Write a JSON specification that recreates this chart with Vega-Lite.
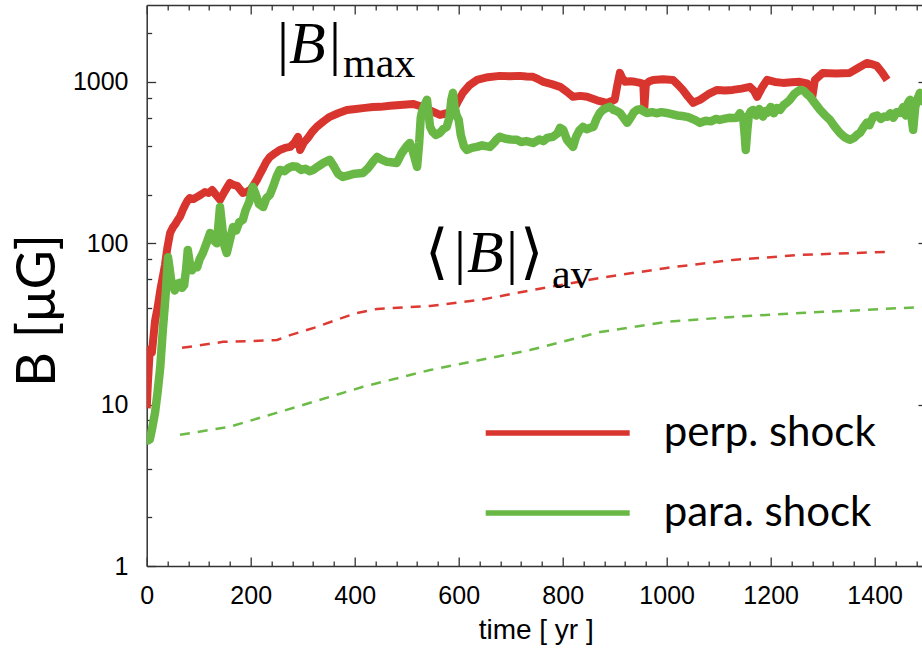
{
  "$schema": "https://vega.github.io/schema/vega-lite/v6.json",
  "width": 775.3,
  "height": 561,
  "autosize": {"type": "none"},
  "padding": {"left": 146.7, "top": 5, "right": 0, "bottom": 85},
  "background": "white",
  "config": {"view": {"stroke": null}},
  "datasets": {
    "maxPerp": [
      {"t":0,"B":9.5,"s":"perp. shock"},{"t":2.5,"B":14,"s":"perp. shock"},{"t":6,"B":22,"s":"perp. shock"},{"t":10,"B":21,"s":"perp. shock"},{"t":16,"B":33,"s":"perp. shock"},{"t":21,"B":40,"s":"perp. shock"},{"t":26,"B":51,"s":"perp. shock"},{"t":31,"B":62,"s":"perp. shock"},{"t":35,"B":73,"s":"perp. shock"},{"t":40,"B":95,"s":"perp. shock"},{"t":45,"B":116,"s":"perp. shock"},{"t":50,"B":125,"s":"perp. shock"},{"t":54,"B":130,"s":"perp. shock"},{"t":60,"B":140,"s":"perp. shock"},{"t":64,"B":146,"s":"perp. shock"},{"t":69,"B":160,"s":"perp. shock"},{"t":74,"B":173,"s":"perp. shock"},{"t":79,"B":185,"s":"perp. shock"},{"t":83,"B":191,"s":"perp. shock"},{"t":90,"B":188,"s":"perp. shock"},{"t":97,"B":194,"s":"perp. shock"},{"t":104,"B":200,"s":"perp. shock"},{"t":112,"B":208,"s":"perp. shock"},{"t":119,"B":205,"s":"perp. shock"},{"t":126,"B":214,"s":"perp. shock"},{"t":133,"B":200,"s":"perp. shock"},{"t":141,"B":186,"s":"perp. shock"},{"t":150,"B":210,"s":"perp. shock"},{"t":160,"B":237,"s":"perp. shock"},{"t":167,"B":230,"s":"perp. shock"},{"t":174,"B":227,"s":"perp. shock"},{"t":180,"B":215,"s":"perp. shock"},{"t":185,"B":205,"s":"perp. shock"},{"t":192,"B":208,"s":"perp. shock"},{"t":199,"B":214,"s":"perp. shock"},{"t":206,"B":230,"s":"perp. shock"},{"t":212,"B":247,"s":"perp. shock"},{"t":218,"B":270,"s":"perp. shock"},{"t":224,"B":293,"s":"perp. shock"},{"t":230,"B":320,"s":"perp. shock"},{"t":237,"B":343,"s":"perp. shock"},{"t":246,"B":360,"s":"perp. shock"},{"t":256,"B":379,"s":"perp. shock"},{"t":266,"B":390,"s":"perp. shock"},{"t":276,"B":396,"s":"perp. shock"},{"t":284,"B":420,"s":"perp. shock"},{"t":291,"B":457,"s":"perp. shock"},{"t":295,"B":379,"s":"perp. shock"},{"t":302,"B":420,"s":"perp. shock"},{"t":310,"B":450,"s":"perp. shock"},{"t":318,"B":490,"s":"perp. shock"},{"t":327,"B":527,"s":"perp. shock"},{"t":340,"B":570,"s":"perp. shock"},{"t":352,"B":608,"s":"perp. shock"},{"t":368,"B":640,"s":"perp. shock"},{"t":385,"B":671,"s":"perp. shock"},{"t":402,"B":680,"s":"perp. shock"},{"t":420,"B":691,"s":"perp. shock"},{"t":435,"B":700,"s":"perp. shock"},{"t":449,"B":701,"s":"perp. shock"},{"t":468,"B":712,"s":"perp. shock"},{"t":487,"B":721,"s":"perp. shock"},{"t":500,"B":726,"s":"perp. shock"},{"t":512,"B":731,"s":"perp. shock"},{"t":522,"B":715,"s":"perp. shock"},{"t":531,"B":701,"s":"perp. shock"},{"t":548,"B":660,"s":"perp. shock"},{"t":564,"B":625,"s":"perp. shock"},{"t":577,"B":640,"s":"perp. shock"},{"t":589,"B":653,"s":"perp. shock"},{"t":598,"B":750,"s":"perp. shock"},{"t":608,"B":856,"s":"perp. shock"},{"t":620,"B":950,"s":"perp. shock"},{"t":635,"B":1030,"s":"perp. shock"},{"t":656,"B":1070,"s":"perp. shock"},{"t":679,"B":1091,"s":"perp. shock"},{"t":698,"B":1085,"s":"perp. shock"},{"t":718,"B":1091,"s":"perp. shock"},{"t":730,"B":1080,"s":"perp. shock"},{"t":743,"B":1076,"s":"perp. shock"},{"t":753,"B":1040,"s":"perp. shock"},{"t":763,"B":1002,"s":"perp. shock"},{"t":779,"B":970,"s":"perp. shock"},{"t":795,"B":933,"s":"perp. shock"},{"t":808,"B":870,"s":"perp. shock"},{"t":820,"B":809,"s":"perp. shock"},{"t":834,"B":820,"s":"perp. shock"},{"t":847,"B":809,"s":"perp. shock"},{"t":866,"B":770,"s":"perp. shock"},{"t":885,"B":742,"s":"perp. shock"},{"t":893,"B":760,"s":"perp. shock"},{"t":900,"B":775,"s":"perp. shock"},{"t":905,"B":950,"s":"perp. shock"},{"t":910,"B":1138,"s":"perp. shock"},{"t":915,"B":1050,"s":"perp. shock"},{"t":920,"B":1002,"s":"perp. shock"},{"t":930,"B":1010,"s":"perp. shock"},{"t":939,"B":1002,"s":"perp. shock"},{"t":947,"B":990,"s":"perp. shock"},{"t":955,"B":973,"s":"perp. shock"},{"t":957,"B":691,"s":"perp. shock"},{"t":960,"B":973,"s":"perp. shock"},{"t":967,"B":1010,"s":"perp. shock"},{"t":974,"B":1030,"s":"perp. shock"},{"t":993,"B":1040,"s":"perp. shock"},{"t":1012,"B":1030,"s":"perp. shock"},{"t":1022,"B":960,"s":"perp. shock"},{"t":1031,"B":893,"s":"perp. shock"},{"t":1041,"B":810,"s":"perp. shock"},{"t":1051,"B":742,"s":"perp. shock"},{"t":1058,"B":760,"s":"perp. shock"},{"t":1064,"B":775,"s":"perp. shock"},{"t":1080,"B":840,"s":"perp. shock"},{"t":1097,"B":893,"s":"perp. shock"},{"t":1112,"B":885,"s":"perp. shock"},{"t":1127,"B":893,"s":"perp. shock"},{"t":1144,"B":910,"s":"perp. shock"},{"t":1160,"B":933,"s":"perp. shock"},{"t":1168,"B":880,"s":"perp. shock"},{"t":1174,"B":809,"s":"perp. shock"},{"t":1183,"B":920,"s":"perp. shock"},{"t":1193,"B":1030,"s":"perp. shock"},{"t":1208,"B":1000,"s":"perp. shock"},{"t":1224,"B":987,"s":"perp. shock"},{"t":1240,"B":995,"s":"perp. shock"},{"t":1256,"B":1002,"s":"perp. shock"},{"t":1270,"B":980,"s":"perp. shock"},{"t":1280,"B":809,"s":"perp. shock"},{"t":1285,"B":1030,"s":"perp. shock"},{"t":1300,"B":1138,"s":"perp. shock"},{"t":1325,"B":1130,"s":"perp. shock"},{"t":1352,"B":1138,"s":"perp. shock"},{"t":1368,"B":1220,"s":"perp. shock"},{"t":1385,"B":1313,"s":"perp. shock"},{"t":1395,"B":1290,"s":"perp. shock"},{"t":1404,"B":1259,"s":"perp. shock"},{"t":1414,"B":1150,"s":"perp. shock"},{"t":1424,"B":1030,"s":"perp. shock"}
    ],
    "maxPara": [
      {"t":0,"B":6.3,"s":"para. shock"},{"t":3,"B":6.0,"s":"para. shock"},{"t":6,"B":6.1,"s":"para. shock"},{"t":10,"B":7,"s":"para. shock"},{"t":16,"B":8.9,"s":"para. shock"},{"t":21,"B":12,"s":"para. shock"},{"t":26,"B":17,"s":"para. shock"},{"t":31,"B":29,"s":"para. shock"},{"t":35,"B":42,"s":"para. shock"},{"t":37,"B":51,"s":"para. shock"},{"t":41,"B":82,"s":"para. shock"},{"t":44,"B":70,"s":"para. shock"},{"t":47,"B":59,"s":"para. shock"},{"t":51,"B":55,"s":"para. shock"},{"t":54,"B":51,"s":"para. shock"},{"t":58,"B":56,"s":"para. shock"},{"t":64,"B":57,"s":"para. shock"},{"t":68,"B":53,"s":"para. shock"},{"t":72,"B":55,"s":"para. shock"},{"t":76,"B":70,"s":"para. shock"},{"t":79,"B":91,"s":"para. shock"},{"t":83,"B":75,"s":"para. shock"},{"t":87,"B":68,"s":"para. shock"},{"t":92,"B":72,"s":"para. shock"},{"t":97,"B":71,"s":"para. shock"},{"t":102,"B":80,"s":"para. shock"},{"t":108,"B":87,"s":"para. shock"},{"t":115,"B":100,"s":"para. shock"},{"t":122,"B":116,"s":"para. shock"},{"t":128,"B":105,"s":"para. shock"},{"t":135,"B":100,"s":"para. shock"},{"t":138,"B":130,"s":"para. shock"},{"t":141,"B":168,"s":"para. shock"},{"t":146,"B":120,"s":"para. shock"},{"t":150,"B":95,"s":"para. shock"},{"t":154,"B":87,"s":"para. shock"},{"t":160,"B":105,"s":"para. shock"},{"t":166,"B":126,"s":"para. shock"},{"t":172,"B":120,"s":"para. shock"},{"t":178,"B":135,"s":"para. shock"},{"t":185,"B":140,"s":"para. shock"},{"t":190,"B":160,"s":"para. shock"},{"t":197,"B":180,"s":"para. shock"},{"t":204,"B":224,"s":"para. shock"},{"t":210,"B":200,"s":"para. shock"},{"t":216,"B":175,"s":"para. shock"},{"t":224,"B":168,"s":"para. shock"},{"t":230,"B":190,"s":"para. shock"},{"t":237,"B":200,"s":"para. shock"},{"t":243,"B":224,"s":"para. shock"},{"t":250,"B":260,"s":"para. shock"},{"t":256,"B":285,"s":"para. shock"},{"t":265,"B":280,"s":"para. shock"},{"t":272,"B":292,"s":"para. shock"},{"t":280,"B":300,"s":"para. shock"},{"t":289,"B":298,"s":"para. shock"},{"t":297,"B":285,"s":"para. shock"},{"t":305,"B":290,"s":"para. shock"},{"t":313,"B":280,"s":"para. shock"},{"t":320,"B":285,"s":"para. shock"},{"t":330,"B":300,"s":"para. shock"},{"t":340,"B":315,"s":"para. shock"},{"t":352,"B":329,"s":"para. shock"},{"t":360,"B":300,"s":"para. shock"},{"t":368,"B":270,"s":"para. shock"},{"t":377,"B":258,"s":"para. shock"},{"t":390,"B":265,"s":"para. shock"},{"t":400,"B":270,"s":"para. shock"},{"t":416,"B":273,"s":"para. shock"},{"t":425,"B":290,"s":"para. shock"},{"t":435,"B":320,"s":"para. shock"},{"t":443,"B":343,"s":"para. shock"},{"t":452,"B":330,"s":"para. shock"},{"t":462,"B":320,"s":"para. shock"},{"t":470,"B":318,"s":"para. shock"},{"t":481,"B":315,"s":"para. shock"},{"t":490,"B":360,"s":"para. shock"},{"t":500,"B":400,"s":"para. shock"},{"t":506,"B":419,"s":"para. shock"},{"t":512,"B":370,"s":"para. shock"},{"t":520,"B":298,"s":"para. shock"},{"t":524,"B":420,"s":"para. shock"},{"t":527,"B":600,"s":"para. shock"},{"t":529,"B":643,"s":"para. shock"},{"t":533,"B":700,"s":"para. shock"},{"t":536,"B":740,"s":"para. shock"},{"t":539,"B":775,"s":"para. shock"},{"t":542,"B":640,"s":"para. shock"},{"t":545,"B":527,"s":"para. shock"},{"t":550,"B":490,"s":"para. shock"},{"t":556,"B":470,"s":"para. shock"},{"t":564,"B":484,"s":"para. shock"},{"t":570,"B":510,"s":"para. shock"},{"t":577,"B":527,"s":"para. shock"},{"t":582,"B":600,"s":"para. shock"},{"t":586,"B":780,"s":"para. shock"},{"t":589,"B":856,"s":"para. shock"},{"t":592,"B":700,"s":"para. shock"},{"t":596,"B":620,"s":"para. shock"},{"t":600,"B":582,"s":"para. shock"},{"t":604,"B":470,"s":"para. shock"},{"t":610,"B":400,"s":"para. shock"},{"t":616,"B":379,"s":"para. shock"},{"t":625,"B":390,"s":"para. shock"},{"t":635,"B":396,"s":"para. shock"},{"t":645,"B":405,"s":"para. shock"},{"t":652,"B":400,"s":"para. shock"},{"t":660,"B":396,"s":"para. shock"},{"t":668,"B":420,"s":"para. shock"},{"t":673,"B":440,"s":"para. shock"},{"t":679,"B":457,"s":"para. shock"},{"t":690,"B":445,"s":"para. shock"},{"t":700,"B":440,"s":"para. shock"},{"t":712,"B":438,"s":"para. shock"},{"t":720,"B":425,"s":"para. shock"},{"t":730,"B":430,"s":"para. shock"},{"t":743,"B":419,"s":"para. shock"},{"t":755,"B":440,"s":"para. shock"},{"t":763,"B":430,"s":"para. shock"},{"t":770,"B":450,"s":"para. shock"},{"t":781,"B":457,"s":"para. shock"},{"t":790,"B":480,"s":"para. shock"},{"t":795,"B":520,"s":"para. shock"},{"t":801,"B":505,"s":"para. shock"},{"t":808,"B":440,"s":"para. shock"},{"t":813,"B":420,"s":"para. shock"},{"t":820,"B":396,"s":"para. shock"},{"t":826,"B":460,"s":"para. shock"},{"t":832,"B":500,"s":"para. shock"},{"t":839,"B":527,"s":"para. shock"},{"t":846,"B":510,"s":"para. shock"},{"t":853,"B":520,"s":"para. shock"},{"t":859,"B":527,"s":"para. shock"},{"t":865,"B":590,"s":"para. shock"},{"t":871,"B":640,"s":"para. shock"},{"t":877,"B":671,"s":"para. shock"},{"t":884,"B":690,"s":"para. shock"},{"t":891,"B":701,"s":"para. shock"},{"t":898,"B":670,"s":"para. shock"},{"t":904,"B":660,"s":"para. shock"},{"t":910,"B":643,"s":"para. shock"},{"t":917,"B":600,"s":"para. shock"},{"t":924,"B":558,"s":"para. shock"},{"t":932,"B":610,"s":"para. shock"},{"t":937,"B":650,"s":"para. shock"},{"t":943,"B":671,"s":"para. shock"},{"t":950,"B":680,"s":"para. shock"},{"t":955,"B":660,"s":"para. shock"},{"t":962,"B":643,"s":"para. shock"},{"t":972,"B":650,"s":"para. shock"},{"t":980,"B":640,"s":"para. shock"},{"t":990,"B":650,"s":"para. shock"},{"t":1000,"B":643,"s":"para. shock"},{"t":1012,"B":630,"s":"para. shock"},{"t":1020,"B":620,"s":"para. shock"},{"t":1030,"B":615,"s":"para. shock"},{"t":1039,"B":608,"s":"para. shock"},{"t":1047,"B":595,"s":"para. shock"},{"t":1055,"B":580,"s":"para. shock"},{"t":1064,"B":558,"s":"para. shock"},{"t":1075,"B":575,"s":"para. shock"},{"t":1085,"B":570,"s":"para. shock"},{"t":1095,"B":590,"s":"para. shock"},{"t":1102,"B":582,"s":"para. shock"},{"t":1110,"B":590,"s":"para. shock"},{"t":1120,"B":600,"s":"para. shock"},{"t":1127,"B":599,"s":"para. shock"},{"t":1135,"B":600,"s":"para. shock"},{"t":1141,"B":640,"s":"para. shock"},{"t":1144,"B":600,"s":"para. shock"},{"t":1147,"B":608,"s":"para. shock"},{"t":1150,"B":470,"s":"para. shock"},{"t":1152,"B":379,"s":"para. shock"},{"t":1155,"B":500,"s":"para. shock"},{"t":1158,"B":625,"s":"para. shock"},{"t":1162,"B":660,"s":"para. shock"},{"t":1166,"B":671,"s":"para. shock"},{"t":1172,"B":620,"s":"para. shock"},{"t":1178,"B":680,"s":"para. shock"},{"t":1185,"B":610,"s":"para. shock"},{"t":1190,"B":660,"s":"para. shock"},{"t":1193,"B":643,"s":"para. shock"},{"t":1200,"B":700,"s":"para. shock"},{"t":1206,"B":640,"s":"para. shock"},{"t":1212,"B":690,"s":"para. shock"},{"t":1218,"B":671,"s":"para. shock"},{"t":1225,"B":720,"s":"para. shock"},{"t":1230,"B":740,"s":"para. shock"},{"t":1237,"B":775,"s":"para. shock"},{"t":1245,"B":840,"s":"para. shock"},{"t":1251,"B":870,"s":"para. shock"},{"t":1256,"B":893,"s":"para. shock"},{"t":1264,"B":880,"s":"para. shock"},{"t":1270,"B":840,"s":"para. shock"},{"t":1276,"B":809,"s":"para. shock"},{"t":1285,"B":740,"s":"para. shock"},{"t":1295,"B":671,"s":"para. shock"},{"t":1305,"B":620,"s":"para. shock"},{"t":1314,"B":582,"s":"para. shock"},{"t":1323,"B":530,"s":"para. shock"},{"t":1333,"B":484,"s":"para. shock"},{"t":1342,"B":455,"s":"para. shock"},{"t":1352,"B":438,"s":"para. shock"},{"t":1360,"B":450,"s":"para. shock"},{"t":1366,"B":470,"s":"para. shock"},{"t":1372,"B":484,"s":"para. shock"},{"t":1378,"B":520,"s":"para. shock"},{"t":1385,"B":560,"s":"para. shock"},{"t":1390,"B":540,"s":"para. shock"},{"t":1397,"B":608,"s":"para. shock"},{"t":1405,"B":620,"s":"para. shock"},{"t":1412,"B":590,"s":"para. shock"},{"t":1418,"B":610,"s":"para. shock"},{"t":1424,"B":608,"s":"para. shock"},{"t":1430,"B":640,"s":"para. shock"},{"t":1436,"B":600,"s":"para. shock"},{"t":1442,"B":650,"s":"para. shock"},{"t":1449,"B":643,"s":"para. shock"},{"t":1455,"B":700,"s":"para. shock"},{"t":1460,"B":620,"s":"para. shock"},{"t":1464,"B":740,"s":"para. shock"},{"t":1468,"B":775,"s":"para. shock"},{"t":1471,"B":600,"s":"para. shock"},{"t":1474,"B":505,"s":"para. shock"},{"t":1478,"B":700,"s":"para. shock"},{"t":1482,"B":780,"s":"para. shock"},{"t":1487,"B":856,"s":"para. shock"},{"t":1491,"B":760,"s":"para. shock"},{"t":1495,"B":820,"s":"para. shock"},{"t":1500,"B":760,"s":"para. shock"}
    ],
    "avPerp": [
      {"t":68,"B":22.5,"s":"perp. shock"},{"t":147,"B":24.5,"s":"perp. shock"},{"t":200,"B":24.8,"s":"perp. shock"},{"t":251,"B":25.2,"s":"perp. shock"},{"t":276,"B":27,"s":"perp. shock"},{"t":327,"B":30.3,"s":"perp. shock"},{"t":370,"B":34,"s":"perp. shock"},{"t":404,"B":37,"s":"perp. shock"},{"t":443,"B":39.2,"s":"perp. shock"},{"t":545,"B":40.9,"s":"perp. shock"},{"t":641,"B":44.6,"s":"perp. shock"},{"t":743,"B":51.4,"s":"perp. shock"},{"t":872,"B":61,"s":"perp. shock"},{"t":1000,"B":70.4,"s":"perp. shock"},{"t":1127,"B":78.9,"s":"perp. shock"},{"t":1256,"B":84.7,"s":"perp. shock"},{"t":1424,"B":88.5,"s":"perp. shock"}
    ],
    "avPara": [
      {"t":64,"B":6.5,"s":"para. shock"},{"t":160,"B":7.3,"s":"para. shock"},{"t":289,"B":9.7,"s":"para. shock"},{"t":416,"B":12.9,"s":"para. shock"},{"t":545,"B":16.4,"s":"para. shock"},{"t":641,"B":18.9,"s":"para. shock"},{"t":737,"B":21.8,"s":"para. shock"},{"t":872,"B":28.2,"s":"para. shock"},{"t":1000,"B":32.6,"s":"para. shock"},{"t":1127,"B":35,"s":"para. shock"},{"t":1256,"B":37,"s":"para. shock"},{"t":1385,"B":38.7,"s":"para. shock"},{"t":1491,"B":40.3,"s":"para. shock"}
    ],
    "one": [{"k": 1}]
  },
  "resolve": {"axis": {"x": "independent", "y": "independent"}},
  "layer": [
    {
      "data": {"name": "maxPerp"},
      "mark": {"type": "line", "strokeWidth": 8, "clip": true, "strokeJoin": "round"},
      "encoding": {
        "x": {"field": "t", "type": "quantitative", "scale": {"domain": [0, 1491], "nice": false, "zero": false},
          "axis": {"orient": "bottom", "values": [0,40,80,120,160,200,240,280,320,360,400,440,480,520,560,600,640,680,720,760,800,840,880,920,960,1000,1040,1080,1120,1160,1200,1240,1280,1320,1360,1400,1440,1480],
            "format": "d", "labelExpr": "datum.value % 200 === 0 ? datum.label : ''",
            "tickSize": {"condition": {"test": "datum.value % 200 === 0", "value": -9}, "value": -5},
            "labelPadding": 26, "labelFont": "Liberation Sans", "labelFontSize": 25, "labelColor": "#000", "labelFlush": false, "labelOverlap": false, "labelBound": false,
            "grid": false, "domain": true, "domainColor": "#333", "domainWidth": 1.5, "tickColor": "#333", "tickWidth": 1.3,
            "title": "time [ yr ]", "titleFont": "Liberation Sans", "titleFontSize": 28, "titleFontWeight": "normal", "titleColor": "#000",
            "titleX": 389, "titleY": 72, "titleBaseline": "alphabetic", "titleAlign": "center", "titleAnchor": "middle"}},
        "y": {"field": "B", "type": "quantitative", "scale": {"type": "log", "domain": [1, 3000], "nice": false},
          "axis": {"orient": "left", "values": [1,2,4,6,8,10,20,40,60,80,100,200,400,600,800,1000,2000],
            "labelExpr": "indexof([1,10,100,1000], datum.value) >= 0 ? '' + datum.value : ''",
            "tickSize": {"condition": {"test": "indexof([1,10,100,1000], datum.value) >= 0", "value": -9}, "value": -5},
            "labelPadding": 27.7, "labelFont": "Liberation Sans", "labelFontSize": 25, "labelColor": "#000", "labelFlush": false, "labelOverlap": false, "labelBound": false, "labelBaseline": "middle",
            "grid": false, "domain": true, "domainColor": "#333", "domainWidth": 1.5, "tickColor": "#333", "tickWidth": 1.3,
            "title": "B [μG]", "titleFont": "Lato", "titleFontSize": 54, "titleFontWeight": "normal", "titleColor": "#000",
            "titleX": -92, "titleY": 305, "titleAngle": 270, "titleBaseline": "alphabetic", "titleAlign": "center"}},
        "color": {"field": "s", "type": "nominal", "scale": {"domain": ["perp. shock", "para. shock"], "range": ["#d9352f", "#69b845"]},
          "legend": {"orient": "none", "legendX": 336, "legendY": 398, "title": null, "padding": 0,
            "symbolType": "M-1,0H1", "symbolSize": 20736, "symbolStrokeWidth": 5.5,
            "labelFont": "Lato", "labelFontSize": 42, "labelColor": "#000", "labelOffset": 31, "labelLimit": 500,
            "clipHeight": 60, "rowPadding": 20,
            "encode": {"symbols": {"update": {"stroke": {"signal": "datum.value === 'perp. shock' ? '#f50d0d' : '#3ec934'"}}}}}}
      }
    },
    {
      "data": {"name": "maxPara"},
      "mark": {"type": "line", "strokeWidth": 8.5, "clip": true, "strokeJoin": "round"},
      "encoding": {
        "x": {"field": "t", "type": "quantitative", "scale": {"domain": [0, 1491], "nice": false, "zero": false},
          "axis": {"orient": "top", "values": [0,40,80,120,160,200,240,280,320,360,400,440,480,520,560,600,640,680,720,760,800,840,880,920,960,1000,1040,1080,1120,1160,1200,1240,1280,1320,1360,1400,1440,1480],
            "labels": false, "tickSize": {"condition": {"test": "datum.value % 200 === 0", "value": -9}, "value": -5},
            "grid": false, "domain": true, "domainColor": "#333", "domainWidth": 1.5, "tickColor": "#333", "tickWidth": 1.3, "title": null}},
        "y": {"field": "B", "type": "quantitative", "scale": {"type": "log", "domain": [1, 3000], "nice": false},
          "axis": {"orient": "right", "offset": 5, "values": [1,2,4,6,8,10,20,40,60,80,100,200,400,600,800,1000,2000],
            "labels": false, "tickSize": {"condition": {"test": "indexof([1,10,100,1000], datum.value) >= 0", "value": -9}, "value": -5},
            "grid": false, "domain": false, "tickColor": "#333", "tickWidth": 1.3, "title": null}},
        "color": {"field": "s", "type": "nominal", "scale": {"domain": ["perp. shock", "para. shock"], "range": ["#d9352f", "#69b845"]}}
      }
    },
    {
      "data": {"name": "avPara"},
      "mark": {"type": "line", "strokeDash": [10, 8], "strokeWidth": 2.5, "clip": true},
      "encoding": {
        "x": {"field": "t", "type": "quantitative", "scale": {"domain": [0, 1491], "nice": false, "zero": false}, "axis": null},
        "y": {"field": "B", "type": "quantitative", "scale": {"type": "log", "domain": [1, 3000], "nice": false}, "axis": null},
        "stroke": {"value": "#6cbb46"}
      }
    },
    {
      "data": {"name": "avPerp"},
      "mark": {"type": "line", "strokeDash": [10, 8], "strokeWidth": 2.5, "clip": true},
      "encoding": {
        "x": {"field": "t", "type": "quantitative", "scale": {"domain": [0, 1491], "nice": false, "zero": false}, "axis": null},
        "y": {"field": "B", "type": "quantitative", "scale": {"type": "log", "domain": [1, 3000], "nice": false}, "axis": null},
        "stroke": {"value": "#dd3a34"}
      }
    },
    {"data": {"name": "one"}, "mark": {"type": "text", "text": "|", "font": "Liberation Serif", "fontSize": 60, "align": "left", "baseline": "alphabetic", "fill": "#000", "dx": 0},
     "encoding": {"x": {"datum": 250.6, "type": "quantitative", "scale": {"domain": [0, 1491], "nice": false, "zero": false}, "axis": null}, "y": {"datum": 1313, "type": "quantitative", "scale": {"type": "log", "domain": [1, 3000], "nice": false}, "axis": null}}},
    {"data": {"name": "one"}, "mark": {"type": "text", "text": "B", "font": "Liberation Serif", "fontStyle": "italic", "fontSize": 60, "align": "left", "baseline": "alphabetic", "fill": "#000", "dx": 12},
     "encoding": {"x": {"datum": 250.6, "type": "quantitative", "scale": {"domain": [0, 1491], "nice": false, "zero": false}, "axis": null}, "y": {"datum": 1313, "type": "quantitative", "scale": {"type": "log", "domain": [1, 3000], "nice": false}, "axis": null}}},
    {"data": {"name": "one"}, "mark": {"type": "text", "text": "|", "font": "Liberation Serif", "fontSize": 60, "align": "left", "baseline": "alphabetic", "fill": "#000", "dx": 52},
     "encoding": {"x": {"datum": 250.6, "type": "quantitative", "scale": {"domain": [0, 1491], "nice": false, "zero": false}, "axis": null}, "y": {"datum": 1313, "type": "quantitative", "scale": {"type": "log", "domain": [1, 3000], "nice": false}, "axis": null}}},
    {"data": {"name": "one"}, "mark": {"type": "text", "text": "max", "font": "Liberation Serif", "fontSize": 42, "align": "left", "baseline": "alphabetic", "fill": "#000", "dx": 66, "dy": 14},
     "encoding": {"x": {"datum": 250.6, "type": "quantitative", "scale": {"domain": [0, 1491], "nice": false, "zero": false}, "axis": null}, "y": {"datum": 1313, "type": "quantitative", "scale": {"type": "log", "domain": [1, 3000], "nice": false}, "axis": null}}},
    {"data": {"name": "one"}, "mark": {"type": "text", "text": "⟨", "font": "DejaVu Sans", "fontSize": 60, "align": "left", "baseline": "alphabetic", "fill": "#000", "dx": 0},
     "encoding": {"x": {"datum": 535.2, "type": "quantitative", "scale": {"domain": [0, 1491], "nice": false, "zero": false}, "axis": null}, "y": {"datum": 66.5, "type": "quantitative", "scale": {"type": "log", "domain": [1, 3000], "nice": false}, "axis": null}}},
    {"data": {"name": "one"}, "mark": {"type": "text", "text": "|", "font": "Liberation Serif", "fontSize": 60, "align": "left", "baseline": "alphabetic", "fill": "#000", "dx": 29},
     "encoding": {"x": {"datum": 535.2, "type": "quantitative", "scale": {"domain": [0, 1491], "nice": false, "zero": false}, "axis": null}, "y": {"datum": 66.5, "type": "quantitative", "scale": {"type": "log", "domain": [1, 3000], "nice": false}, "axis": null}}},
    {"data": {"name": "one"}, "mark": {"type": "text", "text": "B", "font": "Liberation Serif", "fontStyle": "italic", "fontSize": 60, "align": "left", "baseline": "alphabetic", "fill": "#000", "dx": 42},
     "encoding": {"x": {"datum": 535.2, "type": "quantitative", "scale": {"domain": [0, 1491], "nice": false, "zero": false}, "axis": null}, "y": {"datum": 66.5, "type": "quantitative", "scale": {"type": "log", "domain": [1, 3000], "nice": false}, "axis": null}}},
    {"data": {"name": "one"}, "mark": {"type": "text", "text": "|", "font": "Liberation Serif", "fontSize": 60, "align": "left", "baseline": "alphabetic", "fill": "#000", "dx": 81},
     "encoding": {"x": {"datum": 535.2, "type": "quantitative", "scale": {"domain": [0, 1491], "nice": false, "zero": false}, "axis": null}, "y": {"datum": 66.5, "type": "quantitative", "scale": {"type": "log", "domain": [1, 3000], "nice": false}, "axis": null}}},
    {"data": {"name": "one"}, "mark": {"type": "text", "text": "⟩", "font": "DejaVu Sans", "fontSize": 60, "align": "left", "baseline": "alphabetic", "fill": "#000", "dx": 95},
     "encoding": {"x": {"datum": 535.2, "type": "quantitative", "scale": {"domain": [0, 1491], "nice": false, "zero": false}, "axis": null}, "y": {"datum": 66.5, "type": "quantitative", "scale": {"type": "log", "domain": [1, 3000], "nice": false}, "axis": null}}},
    {"data": {"name": "one"}, "mark": {"type": "text", "text": "av", "font": "Liberation Serif", "fontSize": 42, "align": "left", "baseline": "alphabetic", "fill": "#000", "dx": 127, "dy": 16},
     "encoding": {"x": {"datum": 535.2, "type": "quantitative", "scale": {"domain": [0, 1491], "nice": false, "zero": false}, "axis": null}, "y": {"datum": 66.5, "type": "quantitative", "scale": {"type": "log", "domain": [1, 3000], "nice": false}, "axis": null}}}
  ]
}
